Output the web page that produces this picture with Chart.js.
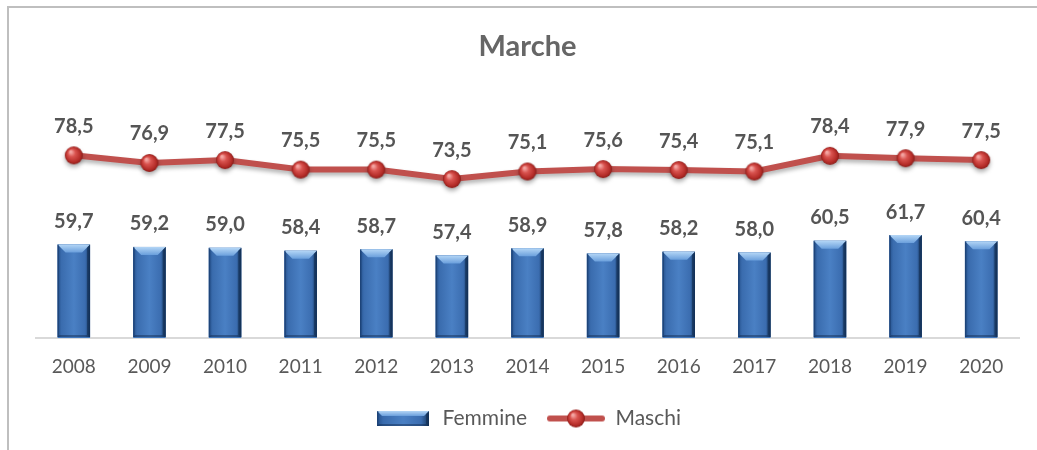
<!DOCTYPE html>
<html>
<head>
<meta charset="utf-8">
<script src="https://cdn.jsdelivr.net/npm/chart.js@4"></script>
<style>
  html, body { margin: 0; padding: 0; background: #fff; }
  #wrap { width: 1037px; height: 450px; position: relative; }
</style>
</head>
<body>
<div id="wrap"><canvas id="chart" width="1037" height="450"></canvas></div>
<script>
const years = ['2008','2009','2010','2011','2012','2013','2014','2015','2016','2017','2018','2019','2020'];
const femmine = [59.7, 59.2, 59.0, 58.4, 58.7, 57.4, 58.9, 57.8, 58.2, 58.0, 60.5, 61.7, 60.4];
const maschi = [78.5, 76.9, 77.5, 75.5, 75.5, 73.5, 75.1, 75.6, 75.4, 75.1, 78.4, 77.9, 77.5];

const FONT = 'Lato, "Open Sans", sans-serif';
const GREY = '#595959';
const LINE_RED = '#c0504d';

// red glossy sphere used as marker
function makeSphere(r) {
  const c = document.createElement('canvas');
  c.width = c.height = r * 2 + 2;
  const g = c.getContext('2d');
  const cx = r + 1, cy = r + 1;
  const grad = g.createRadialGradient(cx - r * 0.35, cy - r * 0.4, r * 0.1, cx, cy, r);
  grad.addColorStop(0, '#f4a6a3');
  grad.addColorStop(0.35, '#d9534f');
  grad.addColorStop(0.8, '#b42c28');
  grad.addColorStop(1, '#8a1d1a');
  g.fillStyle = grad;
  g.beginPath();
  g.arc(cx, cy, r, 0, Math.PI * 2);
  g.fill();
  return c;
}

// bevelled bar drawing, shared by bars and legend
function drawBevelBar(g, x0, x1, top, bottom, b) {
  const body = g.createLinearGradient(x0, 0, x1, 0);
  body.addColorStop(0, '#234f8a');
  body.addColorStop(0.12, '#3a6cae');
  body.addColorStop(0.5, '#4a80c4');
  body.addColorStop(0.85, '#3b6db0');
  body.addColorStop(1, '#16375f');
  g.fillStyle = body;
  g.fillRect(x0, top, x1 - x0, bottom - top);
  // top bevel
  const tg = g.createLinearGradient(0, top, 0, top + b);
  tg.addColorStop(0, '#b4d6f6');
  tg.addColorStop(1, '#6a9fdc');
  g.fillStyle = tg;
  g.beginPath();
  g.moveTo(x0, top); g.lineTo(x1, top);
  g.lineTo(x1 - b, top + b); g.lineTo(x0 + b, top + b);
  g.closePath(); g.fill();
  // right side darker
  g.fillStyle = 'rgba(15,40,75,0.55)';
  g.beginPath();
  g.moveTo(x1, top); g.lineTo(x1, bottom);
  g.lineTo(x1 - 3, bottom - 2); g.lineTo(x1 - 3, top + 3);
  g.closePath(); g.fill();
  // left side
  g.fillStyle = 'rgba(20,50,95,0.45)';
  g.fillRect(x0, top, 1.5, bottom - top);
  // bottom bevel
  g.fillStyle = 'rgba(15,40,75,0.45)';
  g.beginPath();
  g.moveTo(x0, bottom); g.lineTo(x1, bottom);
  g.lineTo(x1 - 3, bottom - 2); g.lineTo(x0 + 2, bottom - 2);
  g.closePath(); g.fill();
}

const sphere = makeSphere(9);

const barIcon = (function () {
  const c = document.createElement('canvas');
  c.width = 52; c.height = 15;
  drawBevelBar(c.getContext('2d'), 0, 52, 0, 15, 5);
  return c;
})();

const lineIcon = (function () {
  const c = document.createElement('canvas');
  c.width = 58; c.height = 20;
  const g = c.getContext('2d');
  g.strokeStyle = LINE_RED;
  g.lineWidth = 6;
  g.lineCap = 'round';
  g.beginPath(); g.moveTo(3, 10); g.lineTo(55, 10); g.stroke();
  g.drawImage(sphere, 29 - sphere.width / 2, 10 - sphere.height / 2);
  return c;
})();

const fmt = v => v.toFixed(1).replace('.', ',');

const decorPlugin = {
  id: 'decor',
  beforeDraw(chart) {
    const g = chart.ctx;
    g.save();
    g.strokeStyle = '#bfbfbf';
    g.lineWidth = 2;
    g.beginPath();
    g.moveTo(8, 450); g.lineTo(8, 7); g.lineTo(1037, 7);
    g.stroke();
    g.restore();
  },
  beforeDatasetDraw(chart, args) {
    if (args.index === 1) {
      const g = chart.ctx;
      g.save();
      g.shadowColor = 'rgba(0,0,0,0.3)';
      g.shadowBlur = 4;
      g.shadowOffsetY = 3;
    }
  },
  afterDatasetDraw(chart, args) {
    const g = chart.ctx;
    if (args.index === 1) {
      g.restore();
      return;
    }
    if (args.index === 0) {
      const bottom = chart.chartArea.bottom - 1;
      g.save();
      args.meta.data.forEach(el => {
        const w = el.width;
        drawBevelBar(g, el.x - w / 2, el.x + w / 2, el.y, Math.min(el.base, bottom), 8);
      });
      g.restore();
    }
  },
  afterDatasetsDraw(chart) {
    const g = chart.ctx;
    g.save();
    g.fillStyle = '#555555';
    g.font = 'bold 20px ' + FONT;
    g.textAlign = 'center';
    g.textBaseline = 'middle';
    chart.getDatasetMeta(0).data.forEach((el, i) => {
      g.fillText(fmt(femmine[i]), el.x, el.y - 23);
    });
    chart.getDatasetMeta(1).data.forEach((el, i) => {
      g.fillText(fmt(maschi[i]), el.x, el.y - 29);
    });
    g.restore();
  }
};

new Chart(document.getElementById('chart'), {
  type: 'bar',
  data: {
    labels: years,
    datasets: [
      {
        label: 'Femmine',
        data: femmine,
        backgroundColor: '#4178be',
        borderWidth: 0,
        barPercentage: 0.43,
        categoryPercentage: 1,
        order: 1
      },
      {
        type: 'line',
        label: 'Maschi',
        data: maschi,
        borderColor: LINE_RED,
        borderWidth: 6,
        pointStyle: sphere,
        pointRadius: 9,
        tension: 0,
        fill: false,
        order: 0
      }
    ]
  },
  options: {
    responsive: false,
    animation: false,
    layout: { padding: { left: 36, right: 18, top: 0, bottom: 11 } },
    plugins: {
      tooltip: { enabled: false },
      title: {
        display: true,
        text: 'Marche',
        color: '#666666',
        font: { family: FONT, size: 29, weight: 'bold' },
        padding: { top: 29, bottom: 37 }
      },
      legend: {
        position: 'bottom',
        labels: {
          color: GREY,
          font: { family: FONT, size: 21 },
          usePointStyle: true,
          pointStyleWidth: 58,
          padding: 20,
          generateLabels: () => [
            { text: 'Femmine', pointStyle: barIcon, fontColor: GREY, datasetIndex: 0, lineWidth: 0 },
            { text: 'Maschi', pointStyle: lineIcon, fontColor: GREY, datasetIndex: 1, lineWidth: 0 }
          ]
        }
      }
    },
    scales: {
      x: {
        grid: { display: false },
        border: { display: true, color: '#d9d9d9', width: 2 },
        ticks: { color: GREY, font: { family: FONT, size: 19 }, padding: 9 },
        afterFit(scale) { scale.height = 50; }
      },
      y: { display: false, min: 40, max: 90 }
    }
  },
  plugins: [decorPlugin]
});
</script>
</body>
</html>
